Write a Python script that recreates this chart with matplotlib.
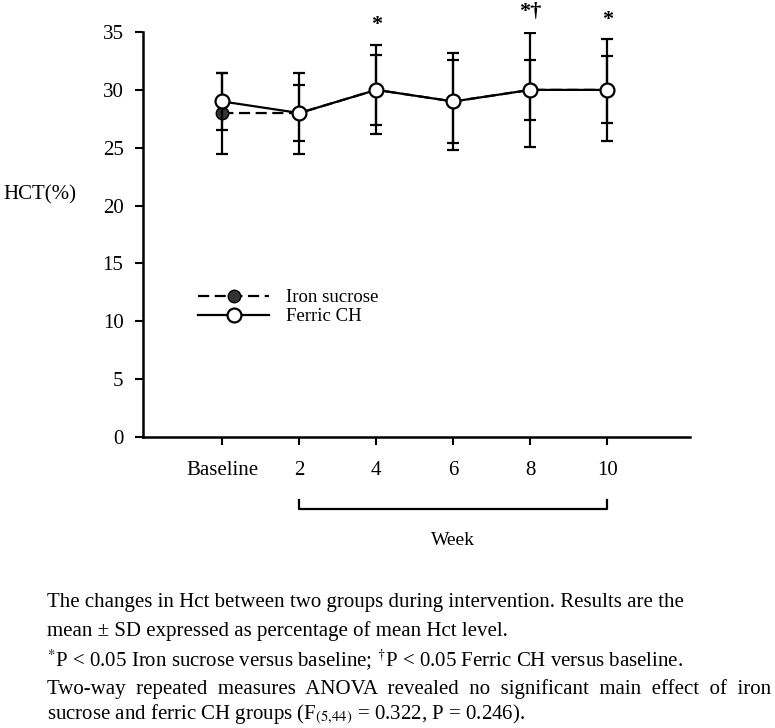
import matplotlib
matplotlib.use("Agg")
import matplotlib.pyplot as plt
from matplotlib.lines import Line2D

plt.rcParams['font.family'] = ['Liberation Serif', 'DejaVu Serif']
plt.rcParams['mathtext.fontset'] = 'stix'

# data
labels = ["Baseline", "2", "4", "6", "8", "10"]
ferric = [29, 28, 30, 29, 30, 30]
ferric_sd = [2.5, 2.4, 3.05, 3.6, 2.6, 2.9]
iron = [28, 28, 30, 29, 30, 30]
iron_sd = [3.5, 3.5, 3.85, 4.2, 4.9, 4.4]
marks = {2: "*", 4: "*\u2020", 5: "*"}
mark_y = {2: 35.6, 4: 36.7, 5: 36.0}

x = list(range(len(labels)))

fig = plt.figure(figsize=(7.75, 7.28), dpi=100)
ax = fig.add_axes([0.1845, 0.3997, 0.7055, 0.5563])

ax.errorbar(x, iron, yerr=iron_sd, fmt='o', color='k', ecolor='k',
            elinewidth=1.6, capsize=4.5, capthick=1.6, ms=9, mfc='#333333',
            mec='k', ls=(0, (5, 2.5)), lw=1.6, zorder=2)
ax.errorbar(x, ferric, yerr=ferric_sd, fmt='o', color='k', ecolor='k',
            elinewidth=1.6, capsize=4.5, capthick=1.6, ms=10, mfc='white',
            mec='k', mew=1.6, ls='-', lw=1.6, zorder=3)

for i, s in marks.items():
    ax.text(i, mark_y[i], s, ha='center', va='center', fontsize=16,
            fontweight='bold', clip_on=False)

ax.set_xlim(-1.03, 6.07)
ax.set_ylim(0, 35)
ax.set_yticks(range(0, 36, 5))
ax.set_xticks(x)
ax.set_xticklabels(labels)
ax.spines['top'].set_visible(False)
ax.spines['right'].set_visible(False)
ax.spines['left'].set_linewidth(1.8)
ax.spines['bottom'].set_linewidth(1.8)
ax.tick_params(axis='both', direction='out', length=6, width=1.5,
               labelsize=15, pad=8)
ax.tick_params(axis='x', pad=11)

# week bracket under the axis
ax.plot([1, 1, 5, 5], [-5.4, -6.2, -6.2, -5.4], color='k', lw=1.6,
        clip_on=False)
ax.text(3, -8.9, "Week", ha='center', va='center', fontsize=14)

fig.text(3 / 775, 1 - 195 / 728, "HCT(%)", ha='left', va='center', fontsize=15)

handles = [
    Line2D([], [], color='k', lw=1.6, ls=(0, (5, 2.5)), marker='o', ms=9,
           mfc='#333333', mec='k'),
    Line2D([], [], color='k', lw=1.6, marker='o', ms=10, mfc='white',
           mec='k', mew=1.6),
]
ax.legend(handles, ["Iron sucrose", "Ferric CH"], loc='center left',
          bbox_to_anchor=(0.07, 0.32), frameon=False, fontsize=13.5,
          handlelength=3.8, handletextpad=0.9, labelspacing=0.1)

caption = [
    "The changes in Hct between two groups during intervention. Results are the",
    "mean \u00b1 SD expressed as percentage of mean Hct level.",
    r"$^{*}$P < 0.05 Iron sucrose versus baseline; $^{\dagger}$P < 0.05 Ferric CH versus baseline.",
    "Two-way  repeated  measures  ANOVA  revealed  no  significant  main  effect  of  iron",
    r"sucrose and ferric CH groups (F$_{(5{,}44)}$ = 0.322, P = 0.246).",
]
line_y = [602, 631, 660, 689, 715]
for t, yy in zip(caption, line_y):
    fig.text(47 / 775, 1 - yy / 728, t, ha='left', va='center', fontsize=15)

fig.savefig("out.png", dpi=100)
